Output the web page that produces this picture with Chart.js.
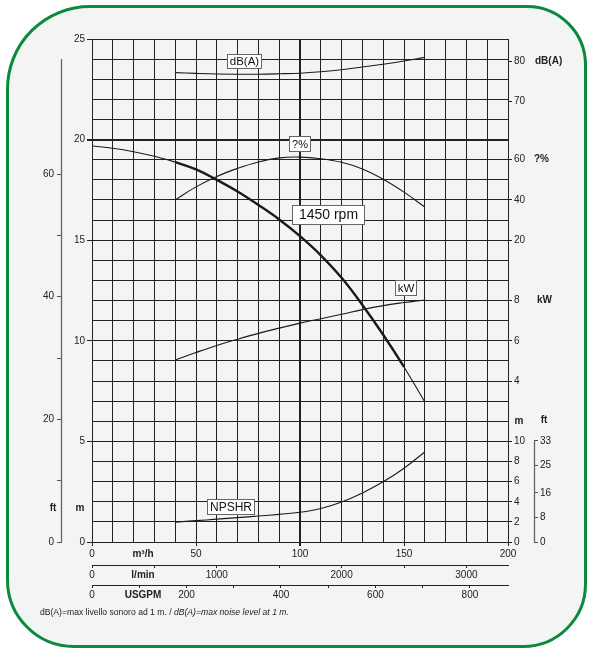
<!DOCTYPE html>
<html>
<head>
<meta charset="utf-8">
<script src="https://cdn.jsdelivr.net/npm/chart.js@4.4.0/dist/chart.umd.min.js"></script>
<style>
  html, body { margin: 0; padding: 0; background: #fff; }
  #wrap { position: relative; width: 590px; height: 648px; overflow: hidden; }
  #frame {
    position: absolute; left: 6px; top: 5px; width: 581px; height: 643px;
    box-sizing: border-box; border: 3px solid #0b8a3d;
    border-radius: 84px 60px 64px 68px; background: #f3f4f4;
  }
  #chart { position: absolute; left: 0; top: 0; }
  #note {
    position: absolute; left: 40px; top: 607px; white-space: nowrap;
    font: 8.6px "Liberation Sans", Arial, sans-serif; color: #222;
  }
</style>
</head>
<body>
<div id="wrap">
  <div id="frame"></div>
  <canvas id="chart" width="590" height="648"></canvas>
  <div id="note">dB(A)=max livello sonoro ad 1 m. / <i>dB(A)=max noise level at 1 m.</i></div>
</div>
<script>
// flow in m3/h
const flow = [0, 10, 20, 30, 40, 50, 60, 70, 80, 90, 100, 110, 120, 130, 140, 150, 160];
// head in m at 1450 rpm
const head = [19.68, 19.57, 19.4, 19.17, 18.88, 18.52, 18.0, 17.42, 16.75, 16.03, 15.2, 14.25, 13.13, 11.78, 10.3, 8.7, 6.96];

// curves drawn only over the duty range
const dutyFlow = [40, 50, 60, 70, 80, 90, 100, 110, 120, 130, 140, 150, 160];
const efficiency = [40, 46.5, 51.7, 55.7, 58.9, 60.9, 61.3, 60.5, 58.7, 55.4, 50.3, 43.9, 36.5];
const noise = [77.1, 76.9, 76.75, 76.7, 76.7, 76.8, 76.95, 77.3, 77.8, 78.5, 79.2, 80.0, 80.9];
const power = [5.05, 5.42, 5.77, 6.08, 6.37, 6.63, 6.88, 7.1, 7.32, 7.55, 7.75, 7.9, 8.03];
const npshr = [1.98, 2.12, 2.27, 2.42, 2.58, 2.75, 2.95, 3.33, 3.98, 4.88, 5.98, 7.33, 8.95];

// tick positions and labels
const flowLabels = [0, 50, 100, 150, 200];
const lminTicks = [0, 500, 1000, 1500, 2000, 2500, 3000];
const lminLabels = [0, 1000, 2000, 3000];
const usgpmTicks = [0, 100, 200, 300, 400, 500, 600, 700, 800];
const usgpmLabels = [0, 200, 400, 600, 800];
const headLabels = [0, 5, 10, 15, 20, 25];
const ftTicks = [0, 10, 20, 30, 40, 50, 60];
const ftLabels = [0, 20, 40, 60];
const dbTicks = [70, 80];
const effTicks = [20, 40, 60];
const kwTicks = [4, 6, 8];
const npshTicks = [0, 2, 4, 6, 8, 10];
const npshFtTicks = [0, 8, 16, 25, 33];

const LMIN_PER_M3H = 1000 / 60;
const USGPM_PER_M3H = 4.402868;
const FT_PER_M = 1 / 0.3048;

const FONT = '"Liberation Sans", Arial, sans-serif';
const dark = '#222';
const tickFont = { family: FONT, size: 10 };

function pts(xs, ys) {
  return xs.map((q, i) => ({ x: q, y: ys[i] }));
}
function fixWidth(w) {
  return s => { s.width = w; };
}
function fixHeight(h) {
  return s => { s.height = h; };
}
function setTicks(vals) {
  return s => { s.ticks = vals.map(v => ({ value: v })); };
}

// secondary right-hand scale: zero width so all share the same edge
function rightScale(min, max, ticks) {
  return {
    type: 'linear', position: 'right', min: min, max: max, bounds: 'data',
    afterFit: fixWidth(0),
    afterBuildTicks: setTicks(ticks),
    border: { display: false },
    grid: { drawOnChartArea: false, color: dark, tickLength: 4 },
    ticks: { padding: 2, color: dark, font: tickFont }
  };
}

// extra bottom scale for another flow unit
function flowScale(max, ticks, labels) {
  return {
    type: 'linear', position: 'bottom', min: 0, max: max, bounds: 'data',
    afterFit: fixHeight(20),
    afterBuildTicks: setTicks(ticks),
    border: { display: true, color: dark, width: 1 },
    grid: { drawOnChartArea: false, color: dark, tickLength: 3 },
    ticks: {
      autoSkip: false, maxRotation: 0, padding: 1, color: dark, font: tickFont,
      callback: v => (labels.includes(v) ? String(v) : '')
    }
  };
}

const curve = {
  borderColor: '#1a1a1a', borderWidth: 1.1, pointRadius: 0,
  tension: 0.4, fill: false
};

// boxed curve labels, placed in flow / head units
const boxes = [
  { text: 'dB(A)', q: 73.5, h: 23.9, size: 11.5, padX: 3, boxH: 15 },
  { text: '?%', q: 100, h: 19.78, size: 11, padX: 3, boxH: 16 },
  { text: '1450 rpm', q: 113.9, h: 16.25, size: 14, padX: 7, boxH: 20 },
  { text: 'kW', q: 150.9, h: 12.62, size: 11.5, padX: 2.5, boxH: 16 },
  { text: 'NPSHR', q: 66.7, h: 1.74, size: 12, padX: 3, boxH: 16 }
];

function boxLabel(ctx, b, cx, cy) {
  ctx.font = b.size + 'px ' + FONT;
  const w = Math.round(ctx.measureText(b.text).width + 2 * b.padX);
  const x0 = Math.round(cx - w / 2), y0 = Math.round(cy - b.boxH / 2);
  ctx.fillStyle = '#fff';
  ctx.fillRect(x0, y0, w, b.boxH);
  ctx.strokeStyle = '#666';
  ctx.lineWidth = 1;
  ctx.strokeRect(x0 + 0.5, y0 + 0.5, w - 1, b.boxH - 1);
  ctx.fillStyle = '#111';
  ctx.textAlign = 'center';
  ctx.textBaseline = 'middle';
  ctx.fillText(b.text, x0 + w / 2, y0 + b.boxH / 2 + 0.5);
}

const decor = {
  id: 'decor',
  afterLayout(chart) {
    // give the stacked right scales room for their labels (they are clipped to their box)
    ['ydb', 'yeff', 'ykw'].forEach(id => {
      const s = chart.scales[id];
      s.right = s.left + 26;
      s.width = 26;
    });
  },
  afterDraw(chart) {
    const { ctx, chartArea, scales } = chart;
    ctx.save();

    // partial axis lines for the two feet scales
    ctx.strokeStyle = '#666';
    ctx.lineWidth = 1.3;
    const xl = scales.yft.right - 0.5;
    ctx.beginPath();
    ctx.moveTo(xl, scales.yft.getPixelForValue(0));
    ctx.lineTo(xl, scales.yft.getPixelForValue(24 * FT_PER_M));
    ctx.stroke();
    const xr = scales.yftn.left + 0.5;
    ctx.beginPath();
    ctx.moveTo(xr, scales.yftn.getPixelForValue(0));
    ctx.lineTo(xr, scales.yftn.getPixelForValue(33));
    ctx.stroke();

    // unit labels
    ctx.fillStyle = dark;
    ctx.font = 'bold 10px ' + FONT;
    ctx.textBaseline = 'middle';
    ctx.textAlign = 'left';
    const ux = chartArea.right + 27;
    ctx.fillText('dB(A)', ux, scales.ydb.getPixelForValue(80));
    ctx.fillText('?%', ux - 1, scales.yeff.getPixelForValue(60));
    ctx.fillText('kW', ux + 2, scales.ykw.getPixelForValue(8));
    ctx.textAlign = 'center';
    const topN = scales.ynpsh.getPixelForValue(10) - 20;
    ctx.fillText('m', chartArea.right + 11, topN);
    ctx.fillText('ft', chartArea.right + 36, topN - 1);
    const lowY = chartArea.bottom - 34;
    ctx.fillText('ft', 53, lowY);
    ctx.fillText('m', 80, lowY);

    // flow unit titles inside the label rows
    const tx = chartArea.left + 51;
    ctx.fillText('m\u00b3/h', tx, scales.x.top + 12);
    ctx.fillText('l/min', tx, scales.lmin.top + 10);
    ctx.fillText('USGPM', tx, scales.usgpm.top + 10);

    boxes.forEach(b => {
      boxLabel(ctx, b, scales.x.getPixelForValue(b.q), scales.y.getPixelForValue(b.h));
    });
    ctx.restore();
  }
};

new Chart(document.getElementById('chart'), {
  type: 'line',
  data: {
    datasets: [
      Object.assign({}, curve, {
        label: 'H', data: pts(flow, head), yAxisID: 'y',
        segment: { borderWidth: c => (c.p0.parsed.x >= 40 && c.p1.parsed.x <= 150 ? 2.4 : 1.1) }
      }),
      Object.assign({}, curve, { label: 'eff', data: pts(dutyFlow, efficiency), yAxisID: 'yeff' }),
      Object.assign({}, curve, { label: 'dB(A)', data: pts(dutyFlow, noise), yAxisID: 'ydb' }),
      Object.assign({}, curve, { label: 'kW', data: pts(dutyFlow, power), yAxisID: 'ykw' }),
      Object.assign({}, curve, { label: 'NPSHR', data: pts(dutyFlow, npshr), yAxisID: 'ynpsh' })
    ]
  },
  options: {
    responsive: false,
    animation: false,
    devicePixelRatio: 1,
    layout: { padding: { top: 39, bottom: 43, left: 0, right: 0 } },
    plugins: { legend: { display: false }, tooltip: { enabled: false } },
    scales: {
      x: {
        type: 'linear', position: 'bottom', min: 0, max: 200, bounds: 'data',
        afterFit: fixHeight(23),
        border: { display: false },
        grid: {
          color: dark, tickLength: 4,
          lineWidth: c => (c.tick && c.tick.value === 100 ? 2 : 1),
          tickColor: c => (c.tick && c.tick.value % 50 === 0 ? dark : 'rgba(0,0,0,0)')
        },
        ticks: {
          stepSize: 10, autoSkip: false, maxRotation: 0, padding: 2, color: dark, font: tickFont,
          callback: v => (flowLabels.includes(v) ? String(v) : '')
        }
      },
      lmin: flowScale(200 * LMIN_PER_M3H, lminTicks, lminLabels),
      usgpm: flowScale(200 * USGPM_PER_M3H, usgpmTicks, usgpmLabels),
      y: {
        type: 'linear', position: 'left', min: 0, max: 25, bounds: 'data',
        afterFit: fixWidth(30),
        border: { display: false },
        grid: {
          color: dark, tickLength: 5,
          lineWidth: c => (c.tick && c.tick.value === 20 ? 2 : 1),
          tickColor: c => (c.tick && c.tick.value % 5 === 0 ? dark : 'rgba(0,0,0,0)')
        },
        ticks: {
          stepSize: 1, autoSkip: false, padding: 2, color: dark, font: tickFont,
          callback: v => (headLabels.includes(v) ? String(v) : '')
        }
      },
      yft: {
        type: 'linear', position: 'left', min: 0, max: 25 * FT_PER_M, bounds: 'data',
        afterFit: fixWidth(62),
        afterBuildTicks: setTicks(ftTicks),
        border: { display: false },
        grid: { drawOnChartArea: false, color: '#555', tickLength: 5 },
        ticks: {
          padding: 3, color: dark, font: tickFont,
          callback: v => (ftLabels.includes(v) ? String(v) : '')
        }
      },
      ydb: rightScale(-40.25, 85.5, dbTicks),
      yeff: rightScale(-130, 120, effTicks),
      ykw: rightScale(-4, 21, kwTicks),
      ynpsh: Object.assign(rightScale(0, 50, npshTicks), { afterFit: fixWidth(26) }),
      yftn: {
        type: 'linear', position: 'right', min: 0, max: 50 * FT_PER_M, bounds: 'data',
        afterFit: fixWidth(56),
        afterBuildTicks: setTicks(npshFtTicks),
        border: { display: false },
        grid: { drawOnChartArea: false, color: '#555', tickLength: 4 },
        ticks: { padding: 2, color: dark, font: tickFont }
      }
    }
  },
  plugins: [decor]
});
</script>
</body>
</html>
